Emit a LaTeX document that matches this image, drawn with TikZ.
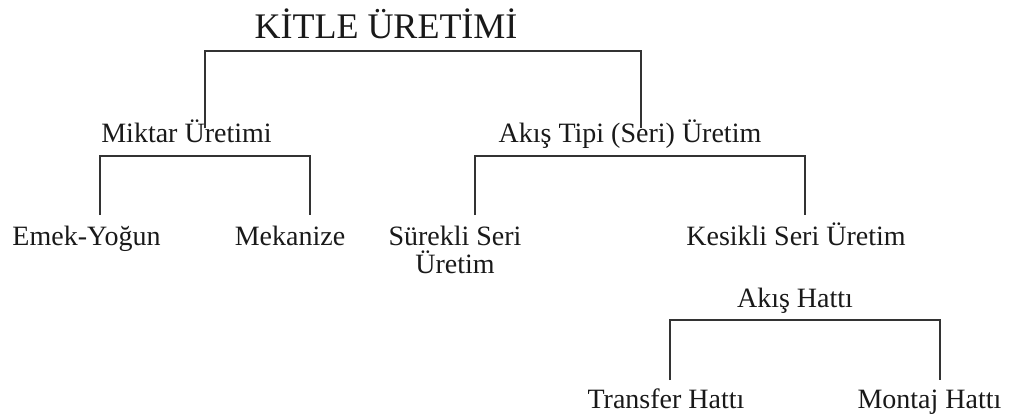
\documentclass[tikz,border=0pt]{standalone}
\usepackage{fontspec}
\setmainfont{Liberation Serif}
\begin{document}
\begin{tikzpicture}[x=0.75pt,y=-0.75pt,
  lbl/.style={anchor=base,inner sep=0pt,font=\fontsize{21}{21}\selectfont,text=black!90},
  ttl/.style={anchor=base,inner sep=0pt,font=\fontsize{27}{27}\selectfont,text=black!90},
  brk/.style={draw=black!80,line width=1.4pt}]
\useasboundingbox (0,0) rectangle (1011,419);
% texts
\node[ttl] (kitle) at (386,38) {KİTLE ÜRETİMİ};
\node[lbl] (miktar) at (186.5,142) {Miktar Üretimi};
\node[lbl] (akis) at (630,142) {Akış Tipi (Seri) Üretim};
\node[lbl] (emek) at (86.5,245) {Emek-Yoğun};
\node[lbl] (mek) at (290,245) {Mekanize};
\node[lbl,align=center] (surekli) at (455,273) {Sürekli Seri\\Üretim};
\node[lbl] (kesikli) at (796,245) {Kesikli Seri Üretim};
\node[lbl] (hat) at (795,307) {Akış Hattı};
\node[lbl] (transfer) at (666,408) {Transfer Hattı};
\node[lbl] (montaj) at (929.5,408) {Montaj Hattı};
% bracket end points
\coordinate (a1) at (205,128);
\coordinate (a2) at (641,128);
\coordinate (b1) at (100,215);
\coordinate (b2) at (310,215);
\coordinate (c1) at (475,215);
\coordinate (c2) at (805,215);
\coordinate (d1) at (670,380);
\coordinate (d2) at (940,380);
% brackets
\draw[brk] (a1) |- (0,51 -| a2) -- (a2);
\draw[brk] (b1) |- (0,156 -| b2) -- (b2);
\draw[brk] (c1) |- (0,156 -| c2) -- (c2);
\draw[brk] (d1) |- (0,320 -| d2) -- (d2);
\end{tikzpicture}
\end{document}
